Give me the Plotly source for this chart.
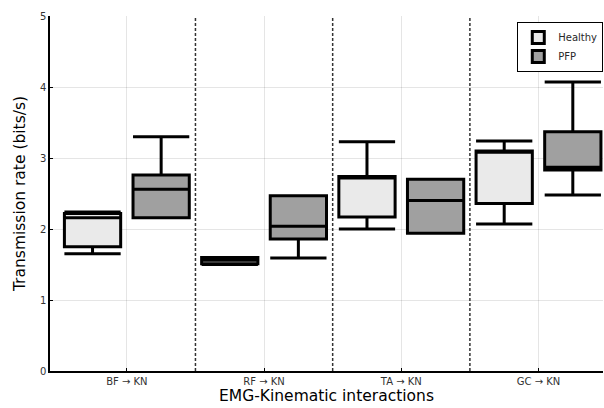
import plotly.graph_objects as go

categories = ["BF → KN", "RF → KN", "TA → KN", "GC → KN"]

healthy_low = [1.65, 1.50, 2.00, 2.07]
healthy_q1 = [1.75, 1.51, 2.17, 2.36]
healthy_med = [2.16, 1.56, 2.72, 3.08]
healthy_q3 = [2.22, 1.60, 2.74, 3.10]
healthy_high = [2.24, 1.60, 3.23, 3.24]

pfp_low = [2.16, 1.59, 1.94, 2.48]
pfp_q1 = [2.16, 1.86, 1.94, 2.83]
pfp_med = [2.56, 2.04, 2.40, 2.87]
pfp_q3 = [2.76, 2.47, 2.70, 3.37]
pfp_high = [3.30, 2.47, 2.70, 4.07]

yticks = [0, 1, 2, 3, 4, 5]

fig = go.Figure()
fig.add_trace(go.Box(
    name="Healthy", x=categories,
    lowerfence=healthy_low, q1=healthy_q1, median=healthy_med,
    q3=healthy_q3, upperfence=healthy_high,
    fillcolor="rgb(234,234,234)", line=dict(color="black", width=3),
    whiskerwidth=1, boxpoints=False,
))
fig.add_trace(go.Box(
    name="PFP", x=categories,
    lowerfence=pfp_low, q1=pfp_q1, median=pfp_med,
    q3=pfp_q3, upperfence=pfp_high,
    fillcolor="rgb(160,160,160)", line=dict(color="black", width=3),
    whiskerwidth=1, boxpoints=False,
))

for i in range(len(categories) - 1):
    fig.add_shape(type="line", xref="x", yref="paper", x0=i + 0.5, x1=i + 0.5,
                  y0=0, y1=1, line=dict(color="rgb(50,50,50)", width=1.5, dash="3px,2px"))

fig.update_layout(
    width=604, height=408,
    margin=dict(l=50, r=1, t=16, b=37, autoexpand=False),
    paper_bgcolor="white", plot_bgcolor="white",
    boxmode="group", boxgap=0.0, boxgroupgap=0.18,
    font=dict(family="DejaVu Sans", color="black"),
    showlegend=True,
    legend=dict(x=0.845, y=0.983, xanchor="left", yanchor="top",
                bordercolor="black", borderwidth=1, bgcolor="white",
                font=dict(size=10, color="rgb(40,40,40)"),
                itemwidth=30, tracegroupgap=0),
)
fig.update_xaxes(
    type="category", range=[-0.56, 3.47], automargin=False,
    showline=True, linecolor="black", linewidth=1.5,
    showgrid=True, gridcolor="rgba(0,0,0,0.1)", gridwidth=1,
    ticks="inside", ticklen=3, tickcolor="black",
    tickfont=dict(size=10, color="rgb(50,50,50)"),
    title=dict(text="EMG-Kinematic interactions", font=dict(size=15.5), standoff=3),
    zeroline=False,
)
fig.update_yaxes(
    range=[0, 5], tickvals=yticks, ticktext=[str(v) for v in yticks],
    automargin=False,
    showline=True, linecolor="black", linewidth=1.5,
    showgrid=True, gridcolor="rgba(0,0,0,0.1)", gridwidth=1,
    ticks="inside", ticklen=3, tickcolor="black",
    tickfont=dict(size=10, color="rgb(50,50,50)"),
    title=dict(text="Transmission rate (bits/s)", font=dict(size=15.5), standoff=10),
    zeroline=False,
)

fig.write_html("out.html", config={"displayModeBar": False},
               post_script="document.body.style.margin='0';")
